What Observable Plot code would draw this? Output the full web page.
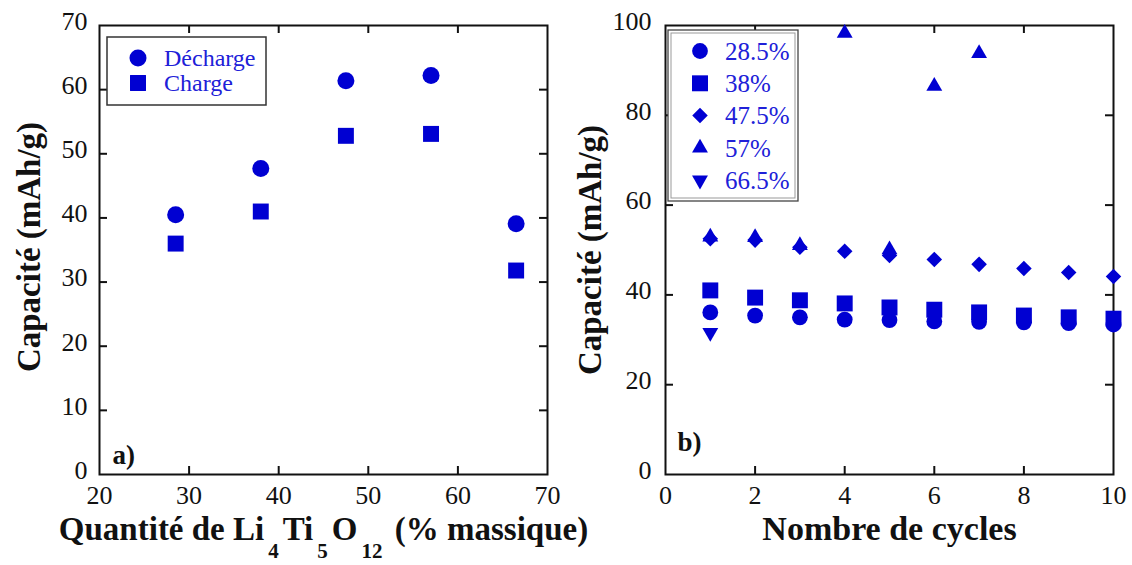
<!DOCTYPE html>
<html>
<head>
<meta charset="utf-8">
<script src="https://cdn.jsdelivr.net/npm/d3@7"></script>
<script src="https://cdn.jsdelivr.net/npm/@observablehq/plot@0.6"></script>
<style>
  html, body { margin: 0; padding: 0; background: #fff; }
  #wrap { display: flex; width: 1132px; height: 565px; }
  #wrap > div { width: 566px; height: 565px; }
  svg { overflow: visible; }
</style>
</head>
<body>
<div id="wrap"><div id="a"></div><div id="b"></div></div>
<script>
// ---------- Panel a) data ----------
const massFractions = [28.5, 38, 47.5, 57, 66.5];
const dechargeValues = [40.5, 47.7, 61.4, 62.2, 39.1];
const chargeValues = [36.0, 41.0, 52.8, 53.1, 31.8];
const xTicksA = [20, 30, 40, 50, 60, 70];
const yTicksA = [0, 10, 20, 30, 40, 50, 60, 70];
const legendA = ["Décharge", "Charge"];

// ---------- Panel b) data ----------
const cycles = [1, 2, 3, 4, 5, 6, 7, 8, 9, 10];
const s285 = [36.1, 35.4, 35.0, 34.5, 34.4, 34.1, 34.0, 33.9, 33.7, 33.4];
const s38 = [41.0, 39.4, 38.8, 38.1, 37.2, 36.7, 36.1, 35.4, 35.0, 34.7];
const s475 = [52.5, 52.2, 50.6, 49.7, 48.8, 47.9, 46.8, 45.9, 45.0, 44.1];
const s57 = [52.9, 52.8, 51.0, 98.3, 50.1, 86.5, 93.8];
const s665 = [31.6];
const xTicksB = [0, 2, 4, 6, 8, 10];
const yTicksB = [0, 20, 40, 60, 80, 100];
const legendB = ["28.5%", "38%", "47.5%", "57%", "66.5%"];

const BLUE = "#0000d2";
const TEXTBLUE = "#2020d8";
const FONT = "'Liberation Serif', 'Times New Roman', serif";

// custom symbols
const diamondSym = { draw(ctx, size) { const r = Math.sqrt(size / 2); ctx.moveTo(0, -r); ctx.lineTo(r, 0); ctx.lineTo(0, r); ctx.lineTo(-r, 0); ctx.closePath(); } };
const triDownSym = { draw(ctx, size) { const y = -Math.sqrt(size / (Math.sqrt(3) * 3)); ctx.moveTo(0, -y * 2); ctx.lineTo(-Math.sqrt(3) * y, y); ctx.lineTo(Math.sqrt(3) * y, y); ctx.closePath(); } };

const W = 566, H = 565, ML = 99, MR = 19, MT = 25, MB = 91;
const FW = W - ML - MR, FH = H - MT - MB;
const TL = 8;

function frameMarks(xInner, yInner) {
  return [
    Plot.frame({stroke: "#111", strokeWidth: 2}),
    Plot.tickY(yInner, {y: d => d, insetRight: FW - TL, stroke: "#111", strokeWidth: 2}),
    Plot.tickY(yInner, {y: d => d, insetLeft: FW - TL, stroke: "#111", strokeWidth: 2}),
    Plot.tickX(xInner, {x: d => d, insetBottom: FH - TL, stroke: "#111", strokeWidth: 2}),
    Plot.tickX(xInner, {x: d => d, insetTop: FH - TL, stroke: "#111", strokeWidth: 2})
  ];
}

function pts(xs, ys) { return ys.map((v, i) => ({x: xs[i], y: v})); }

// ---------- Panel a ----------
const plotA = Plot.plot({
  width: W, height: H, marginLeft: ML, marginRight: MR, marginTop: MT, marginBottom: MB,
  x: {domain: [20, 70]},
  y: {domain: [0, 70]},
  style: {fontFamily: FONT, background: "transparent", overflow: "visible"},
  marks: [
    ...frameMarks(xTicksA.slice(1, -1), yTicksA.slice(1, -1)),
    Plot.axisX({ticks: xTicksA, tickSize: 0, tickPadding: 11, fontSize: 26, label: null, fill: "#111"}),
    Plot.axisY({ticks: yTicksA, tickSize: 0, tickPadding: 12, fontSize: 26, label: null, fill: "#111", dy: -4}),
    Plot.dot(pts(massFractions, dechargeValues), {x: "x", y: "y", symbol: d3.symbolCircle, r: 8.5, fill: BLUE, stroke: "none"}),
    Plot.dot(pts(massFractions, chargeValues), {x: "x", y: "y", symbol: d3.symbolSquare, r: 9, fill: BLUE, stroke: "none"}),
    Plot.text(["a)"], {frameAnchor: "bottom-left", textAnchor: "start", dx: 13, dy: -11, fontSize: 27, fontWeight: "bold", fill: "#111"}),
    Plot.text(["Capacité (mAh/g)"], {frameAnchor: "left", textAnchor: "middle", rotate: -90, dx: -70, dy: -3, fontSize: 33, fontWeight: "bold", fill: "#111"}),
    Plot.text(["XTITLE"], {frameAnchor: "bottom", textAnchor: "middle", dy: 65, fontSize: 33, fontWeight: "bold", fill: "#111"})
  ]
});
document.getElementById("a").appendChild(plotA);

// subscripted x title
d3.select(plotA).selectAll("text").filter(function() { return this.textContent === "XTITLE"; }).each(function() {
  const t = d3.select(this);
  t.text(null);
  const parts = [["Quantité de Li", false], ["4", true], ["Ti", false], ["5", true], ["O", false], ["12", true], [" (% massique)", false]];
  let sub = false;
  for (const [s, isSub] of parts) {
    const ts = t.append("tspan").text(s);
    if (isSub && !sub) { ts.attr("dy", 18).attr("dx", 4).style("font-size", "21px"); }
    else if (!isSub && sub) { ts.attr("dy", -18).attr("dx", 4); }
    sub = isSub;
  }
});

// legend a
(function() {
  const svg = d3.select(plotA);
  const g = svg.append("g").attr("transform", `translate(${ML},${MT})`);
  g.append("rect").attr("x", 8).attr("y", 12).attr("width", 159).attr("height", 68)
    .attr("fill", "white").attr("stroke", "#333").attr("stroke-width", 1.5);
  const syms = [d3.symbolCircle, d3.symbolSquare];
  const sizes = [Math.PI * 8.5 * 8.5, Math.PI * 9 * 9];
  legendA.forEach((lab, i) => {
    const yy = 33 + i * 25;
    g.append("path").attr("d", d3.symbol(syms[i], sizes[i])()).attr("transform", `translate(39,${yy})`).attr("fill", BLUE);
    g.append("text").attr("x", 65).attr("y", yy).attr("dy", "0.35em").attr("fill", TEXTBLUE)
      .attr("text-anchor", "start")
      .style("font-family", FONT).style("font-size", "24px").text(lab);
  });
})();

// ---------- Panel b ----------
const plotB = Plot.plot({
  width: W, height: H, marginLeft: ML, marginRight: MR, marginTop: MT, marginBottom: MB,
  x: {domain: [0, 10]},
  y: {domain: [0, 100]},
  style: {fontFamily: FONT, background: "transparent", overflow: "visible"},
  marks: [
    ...frameMarks(xTicksB.slice(1, -1), yTicksB.slice(1, -1)),
    Plot.axisX({ticks: xTicksB, tickSize: 0, tickPadding: 11, fontSize: 26, label: null, fill: "#111"}),
    Plot.axisY({ticks: yTicksB, tickSize: 0, tickPadding: 14, fontSize: 26, label: null, fill: "#111", dy: -4}),
    Plot.dot(pts(cycles, s285), {x: "x", y: "y", symbol: d3.symbolCircle, r: 7.9, fill: BLUE, stroke: "none"}),
    Plot.dot(pts(cycles, s38), {x: "x", y: "y", symbol: d3.symbolSquare, r: 9, fill: BLUE, stroke: "none"}),
    Plot.dot(pts(cycles, s475), {x: "x", y: "y", symbol: diamondSym, r: 6.2, fill: BLUE, stroke: "none"}),
    Plot.dot(pts(cycles, s57), {x: "x", y: "y", symbol: d3.symbolTriangle, r: 5.9, fill: BLUE, stroke: "none"}),
    Plot.dot(pts(cycles, s665), {x: "x", y: "y", symbol: triDownSym, r: 5.9, fill: BLUE, stroke: "none"}),
    Plot.text(["b)"], {frameAnchor: "bottom-left", textAnchor: "start", dx: 12, dy: -24, fontSize: 27, fontWeight: "bold", fill: "#111"}),
    Plot.text(["Capacité (mAh/g)"], {frameAnchor: "left", textAnchor: "middle", rotate: -90, dx: -75, dy: 0, fontSize: 33, fontWeight: "bold", fill: "#111"}),
    Plot.text(["Nombre de cycles"], {frameAnchor: "bottom", textAnchor: "middle", dy: 65, fontSize: 34, fontWeight: "bold", fill: "#111"})
  ]
});
document.getElementById("b").appendChild(plotB);

// legend b
(function() {
  const svg = d3.select(plotB);
  const g = svg.append("g").attr("transform", `translate(${ML},${MT})`);
  g.append("rect").attr("x", 3).attr("y", 5).attr("width", 130).attr("height", 171)
    .attr("fill", "white").attr("stroke", "#444").attr("stroke-width", 1.3);
  g.append("rect").attr("x", 6).attr("y", 8).attr("width", 124).attr("height", 165)
    .attr("fill", "none").attr("stroke", "#999").attr("stroke-width", 1);
  const syms = [d3.symbolCircle, d3.symbolSquare, diamondSym, d3.symbolTriangle, triDownSym];
  const rs = [7.9, 9, 6.2, 5.9, 5.9];
  legendB.forEach((lab, i) => {
    const yy = 26 + i * 32.3;
    g.append("path").attr("d", d3.symbol(syms[i], Math.PI * rs[i] * rs[i])()).attr("transform", `translate(35,${yy})`).attr("fill", BLUE);
    g.append("text").attr("x", 60).attr("y", yy).attr("dy", "0.35em").attr("fill", TEXTBLUE)
      .attr("text-anchor", "start")
      .style("font-family", FONT).style("font-size", "25px").text(lab);
  });
})();
</script>
</body>
</html>
